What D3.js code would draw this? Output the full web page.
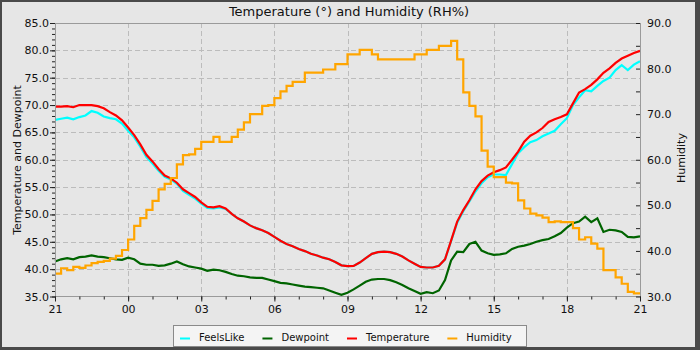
<!DOCTYPE html>
<html>
<head>
<meta charset="utf-8">
<script src="https://cdn.jsdelivr.net/npm/d3@7"></script>
<style>
  html, body { margin: 0; padding: 0; background: #4a4a4a; }
  svg { display: block; }
  text { font-family: "DejaVu Sans", sans-serif; fill: #111; }
</style>
</head>
<body>
<svg id="chart" width="700" height="350"></svg>
<script>
// ---- Data (15-minute samples from 21:00 to 21:00 next day) ----
const startTime = new Date(2024, 0, 1, 21, 0);
const stepMinutes = 15;

const temperature = [
  69.7,69.7,69.8,69.6,70.0,70.0,70.0,69.8,69.4,68.7,68.1,67.2,
  65.9,64.5,62.8,60.9,59.7,58.3,57.1,56.6,55.8,54.6,53.9,53.2,
  52.2,51.4,51.3,51.5,51.1,50.1,49.3,48.7,48.0,47.5,47.1,46.6,
  45.9,45.2,44.6,44.2,43.7,43.3,42.8,42.5,42.1,41.8,41.3,40.7,
  40.55,40.6,41.2,42.0,42.8,43.1,43.2,43.1,42.8,42.3,41.6,41.0,
  40.4,40.3,40.3,40.6,41.8,45.2,48.7,50.8,52.6,54.6,56.1,57.1,
  57.7,58.1,58.6,60.0,61.5,63.3,64.4,65.0,65.8,66.9,67.4,67.8,
  68.3,70.3,72.3,72.9,73.7,74.7,75.9,76.7,77.7,78.5,79.0,79.5,
  79.9
];

const feelsLike = [
  67.3,67.5,67.7,67.4,67.8,68.1,68.9,68.6,67.9,67.6,67.4,66.6,
  65.3,64.1,62.4,60.5,59.3,58.0,56.9,56.4,55.6,54.3,53.6,52.9,
  52.0,51.2,51.1,51.3,51.0,50.1,49.3,48.7,48.0,47.5,47.1,46.6,
  45.9,45.2,44.6,44.2,43.7,43.3,42.8,42.5,42.1,41.8,41.3,40.7,
  40.55,40.6,41.2,42.0,42.8,43.1,43.2,43.1,42.8,42.3,41.6,41.0,
  40.4,40.3,40.3,40.6,41.8,45.1,48.5,50.6,52.4,54.2,55.7,56.8,
  57.3,57.3,57.2,59.2,61.2,62.3,63.2,63.6,64.3,64.8,65.3,66.5,
  67.6,70.0,71.4,72.7,72.5,73.5,74.4,75.0,76.4,77.3,76.4,77.4,
  78.0
];

const dewpoint = [
  41.4,41.8,42.0,41.8,42.2,42.3,42.5,42.3,42.2,42.0,41.8,41.7,
  42.1,41.8,41.0,40.8,40.8,40.6,40.7,41.0,41.4,40.9,40.5,40.3,
  40.1,39.7,39.9,39.8,39.5,39.1,38.8,38.7,38.5,38.4,38.4,38.1,
  37.8,37.5,37.4,37.2,37.0,36.8,36.7,36.6,36.5,36.1,35.7,35.3,
  35.7,36.3,37.0,37.7,38.1,38.2,38.2,38.0,37.6,37.1,36.5,36.0,
  35.5,35.8,35.6,36.1,38.0,41.6,43.2,43.1,44.6,45.0,43.4,42.9,
  42.6,42.7,42.9,43.7,44.1,44.3,44.6,45.0,45.3,45.5,46.0,46.6,
  47.6,48.4,48.7,49.6,48.6,49.3,46.8,47.2,47.1,46.8,45.9,45.8,
  46.0
];

const humidity = [
  35.0,36.2,35.8,36.5,36.3,36.8,37.3,37.6,37.8,38.3,38.9,40.2,
  42.5,45.5,47.2,49.0,51.0,53.5,54.7,56.0,59.0,61.0,61.2,62.4,
  63.9,63.9,65.0,63.9,63.9,65.0,66.6,68.2,70.0,70.0,71.8,72.0,
  73.5,75.0,76.2,77.1,77.1,79.1,79.1,79.1,79.8,79.8,81.0,81.0,
  83.1,83.1,84.1,84.1,83.1,82.0,82.0,82.0,82.0,82.0,82.0,83.1,
  83.1,84.1,84.1,85.0,85.0,86.1,82.0,74.8,71.8,69.5,62.0,58.5,
  56.2,56.2,55.0,54.8,51.1,49.3,48.2,47.8,47.3,46.3,46.5,46.3,
  46.3,45.0,42.5,43.0,41.6,40.5,35.8,35.8,34.2,32.8,31.0,30.7,
  30.7
];

const seriesNames = ["FeelsLike", "Dewpoint", "Temperature", "Humidity"];
const seriesColors = ["#00ffff", "#006400", "#ff0000", "#ffa500"];
const leftTicks = [35, 40, 45, 50, 55, 60, 65, 70, 75, 80, 85];
const rightTicks = [30, 40, 50, 60, 70, 80, 90];
const titleText = "Temperature (\u00b0) and Humidity (RH%)";
const leftLabel = "Temperature and Dewpoint";
const rightLabel = "Humidity";

// ---- Layout ----
const W = 700, H = 350;
const P = { l: 55, r: 640, t: 23, b: 296.5 };

const times = temperature.map((_, i) => new Date(+startTime + i * stepMinutes * 60000));
const endTime = times[times.length - 1];

const svg = d3.select("#chart");

// outer dark frame + background
svg.append("rect").attr("x", 0).attr("y", 0).attr("width", W).attr("height", H).attr("fill", "#4a4a4a");
svg.append("rect").attr("x", 2).attr("y", 2).attr("width", 693).attr("height", 345).attr("fill", "#e6e6e6");

const x = d3.scaleTime().domain([startTime, endTime]).range([P.l, P.r]);
const yL = d3.scaleLinear().domain([35, 85]).range([P.b, P.t]);
const yR = d3.scaleLinear().domain([30, 90]).range([P.b, P.t]);

// grid
const grid = svg.append("g").attr("stroke", "#bcbcbc").attr("stroke-dasharray", "5,3").attr("stroke-width", 1);
leftTicks.filter(v => v > 35 && v < 85).forEach(v => {
  const yy = Math.round(yL(v)) + 0.5;
  grid.append("line").attr("x1", P.l).attr("x2", P.r).attr("y1", yy).attr("y2", yy);
});
const majorTimes = d3.timeHour.every(3).range(startTime, +endTime + 1);
majorTimes.filter(t => +t > +startTime && +t < +endTime).forEach(t => {
  const xx = Math.round(x(t)) + 0.5;
  grid.append("line").attr("x1", xx).attr("x2", xx).attr("y1", P.t).attr("y2", P.b);
});

// series lines
const allSeries = [feelsLike, dewpoint, temperature, humidity];
allSeries.forEach((vals, k) => {
  const isHum = k === 3;
  const line = d3.line()
    .x((d, i) => x(times[i]))
    .y(d => isHum ? yR(d) : yL(d))
    .curve(isHum ? d3.curveStepAfter : d3.curveLinear);
  svg.append("path")
    .datum(vals)
    .attr("d", line)
    .attr("fill", "none")
    .attr("stroke", seriesColors[k])
    .attr("stroke-width", 2.2)
    .attr("stroke-linejoin", "miter");
});

// frame
svg.append("rect")
  .attr("x", P.l + 0.5).attr("y", P.t + 0.5)
  .attr("width", P.r - P.l).attr("height", P.b - P.t - 0.5)
  .attr("fill", "none").attr("stroke", "#9a9a9a").attr("stroke-width", 1);

function styleAxis(g) {
  g.select(".domain").remove();
  g.selectAll(".tick line").attr("stroke", "#222");
  g.selectAll(".tick text").attr("font-family", "DejaVu Sans").attr("font-size", 11).attr("fill", "#111");
}

// left axis major + minor
const leftMinor = d3.range(35, 86, 1);
svg.append("g").attr("transform", `translate(${P.l},0)`)
  .call(d3.axisLeft(yL).tickValues(leftMinor).tickSize(3).tickFormat(""))
  .call(styleAxis);
svg.append("g").attr("transform", `translate(${P.l},0)`)
  .call(d3.axisLeft(yL).tickValues(leftTicks).tickSize(5).tickPadding(1).tickFormat(d3.format(".1f")))
  .call(styleAxis);

// right axis (ticks point inward)
const rightMinor = d3.range(30, 91, 5);
svg.append("g").attr("transform", `translate(${P.r},0)`)
  .call(d3.axisLeft(yR).tickValues(rightMinor).tickSize(4).tickFormat(""))
  .call(styleAxis);
svg.append("g").attr("transform", `translate(${P.r},0)`)
  .call(d3.axisRight(yR).tickValues(rightTicks).tickSize(0).tickPadding(7).tickFormat(d3.format(".1f")))
  .call(styleAxis);

// bottom axis
const hourTicks = d3.timeHour.every(1).range(startTime, +endTime + 1);
svg.append("g").attr("transform", `translate(0,${P.b})`)
  .call(d3.axisBottom(x).tickValues(hourTicks).tickSize(3).tickFormat(""))
  .call(styleAxis);
svg.append("g").attr("transform", `translate(0,${P.b})`)
  .call(d3.axisBottom(x).tickValues(majorTimes).tickSize(5).tickPadding(4).tickFormat(d3.timeFormat("%H")))
  .call(styleAxis);

// title
svg.append("text").attr("x", 349).attr("y", 15.5).attr("text-anchor", "middle")
  .attr("font-size", 13).text(titleText);

// axis labels
svg.append("text").attr("transform", `translate(21,160) rotate(-90)`)
  .attr("text-anchor", "middle").attr("font-size", 11).text(leftLabel);
svg.append("text").attr("transform", `translate(685,158) rotate(-90)`)
  .attr("text-anchor", "middle").attr("font-size", 11).text(rightLabel);

// legend
const lg = svg.append("g");
lg.append("rect").attr("x", 173.5).attr("y", 325.5).attr("width", 353).attr("height", 21)
  .attr("fill", "#f4f4f4").attr("stroke", "#8a8a8a").attr("stroke-width", 1);
let lx = 180;
seriesNames.forEach((name, k) => {
  lg.append("line").attr("x1", lx).attr("x2", lx + 10).attr("y1", 338.5).attr("y2", 338.5)
    .attr("stroke", seriesColors[k]).attr("stroke-width", 2);
  const t = lg.append("text").attr("x", lx + 19).attr("y", 341).attr("font-size", 10).text(name);
  lx += 19 + t.node().getComputedTextLength() + 18;
});
</script>
</body>
</html>
